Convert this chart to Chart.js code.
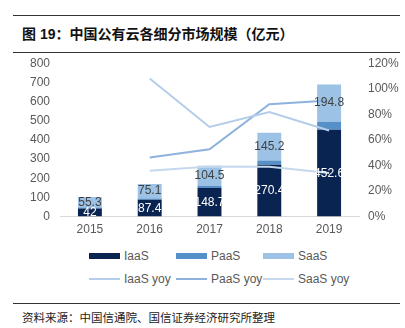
<!DOCTYPE html>
<html>
<head>
<meta charset="utf-8">
<script src="https://cdn.jsdelivr.net/npm/chart.js@4"></script>
<style>
  body { margin: 0; width: 405px; height: 328px; background: #fff; position: relative; overflow: hidden;
         font-family: "Liberation Sans", Arial, "Noto Sans CJK SC", sans-serif; }
  .rule { position: absolute; left: 13px; width: 387px; height: 0; border-top: 1px solid #333; }
  #title { position: absolute; left: 22px; top: 23px; font-size: 14px; font-weight: bold; color: #111;
           font-family: "Liberation Sans", Arial, "Noto Sans CJK SC", sans-serif; }
  #source { position: absolute; left: 22px; top: 309px; font-size: 11.5px; color: #222;
            font-family: "Noto Sans CJK SC", sans-serif; }
  #wrap { position: absolute; left: 0; top: 46px; width: 405px; height: 197px; }
  .legend { position: absolute; left: 0; width: 405px; font-size: 12px; color: #595959; }
  .item { position: absolute; top: 0; height: 14px; line-height: 14px; }
  .sw { position: absolute; left: 0; width: 31px; }
  .lbl { position: absolute; left: 35px; top: 0; white-space: nowrap; }
</style>
</head>
<body>
<div class="rule" style="top:15px"></div>
<div id="title">图 19：中国公有云各细分市场规模（亿元）</div>
<div class="rule" style="top:52px"></div>
<div id="wrap"><canvas id="chart"></canvas></div>
<div class="legend" id="legend1" style="top:249px"></div>
<div class="legend" id="legend2" style="top:272px"></div>
<div class="rule" style="top:303px"></div>
<div id="source">资料来源：中国信通院、国信证券经济研究所整理</div>
<script>
// 연도
var years = ['2015', '2016', '2017', '2018', '2019'];
// 市场规模 (亿元)
var iaas = [42, 87.4, 148.7, 270.4, 452.6];
var paas = [5.2, 7.6, 11.6, 21.8, 41.6];
var saas = [55.3, 75.1, 104.5, 145.2, 194.8];
// 同比增速 (%)
var iaasYoy = [null, 108.1, 70.1, 81.8, 67.4];
var paasYoy = [null, 46.2, 52.6, 87.9, 90.8];
var saasYoy = [null, 35.8, 39.1, 38.9, 34.2];

var colors = {
    iaas: '#0a2452',
    paas: '#5591c8',
    saas: '#9cc2e5',
    iaasYoy: '#b4cdea',
    paasYoy: '#8eb2de',
    saasYoy: '#c5d8ee'
};

// 막대 안에 값 표시
var barLabels = {
    id: 'barLabels',
    afterDatasetsDraw: function (chart) {
        var ctx = chart.ctx;
        ctx.save();
        ctx.font = '12px "Liberation Sans", Arial, sans-serif';
        ctx.textAlign = 'center';
        ctx.textBaseline = 'middle';
        [0, 2].forEach(function (di) {
            var meta = chart.getDatasetMeta(di);
            ctx.fillStyle = di === 0 ? '#ffffff' : '#404040';
            meta.data.forEach(function (bar, i) {
                var v = chart.data.datasets[di].data[i];
                ctx.fillText(String(v), bar.x, (bar.y + bar.base) / 2);
            });
        });
        ctx.restore();
    }
};

var lineDs = function (label, data, color) {
    return {
        type: 'line', label: label, data: data, yAxisID: 'y1',
        borderColor: color, backgroundColor: color, borderWidth: 2,
        pointRadius: 0, tension: 0, fill: false, order: 0
    };
};

var chart = new Chart(document.getElementById('chart'), {
    type: 'bar',
    data: {
        labels: years,
        datasets: [
            { label: 'IaaS', data: iaas, backgroundColor: colors.iaas, order: 1 },
            { label: 'PaaS', data: paas, backgroundColor: colors.paas, order: 1 },
            { label: 'SaaS', data: saas, backgroundColor: colors.saas, order: 1 },
            lineDs('IaaS yoy', iaasYoy, colors.iaasYoy),
            lineDs('PaaS yoy', paasYoy, colors.paasYoy),
            lineDs('SaaS yoy', saasYoy, colors.saasYoy)
        ]
    },
    options: {
        responsive: true,
        maintainAspectRatio: false,
        animation: false,
        barPercentage: 0.4,
        categoryPercentage: 1,
        layout: { padding: { top: 4, left: 0, right: 0, bottom: 0 } },
        plugins: { legend: { display: false }, tooltip: { enabled: false } },
        scales: {
            x: {
                stacked: true,
                grid: { display: false, drawTicks: false },
                border: { color: '#d9d9d9', width: 1 },
                ticks: { color: '#595959', font: { size: 12, family: '"Liberation Sans", Arial' }, padding: 6 }
            },
            y: {
                stacked: true, min: 0, max: 800,
                grid: { display: false, drawTicks: false },
                border: { display: false },
                ticks: { stepSize: 100, color: '#595959', font: { size: 12, family: '"Liberation Sans", Arial' }, padding: 10 },
                afterFit: function (s) { s.width = 60; }
            },
            y1: {
                position: 'right', min: 0, max: 120,
                grid: { display: false, drawTicks: false },
                border: { display: false },
                ticks: { stepSize: 20, color: '#595959', font: { size: 12, family: '"Liberation Sans", Arial' }, padding: 9,
                         callback: function (v) { return v + '%'; } },
                afterFit: function (s) { s.width = 46; }
            }
        }
    },
    plugins: [barLabels]
});

// 범례
function legendItem(parent, left, label, color, thick) {
    var it = document.createElement('div');
    it.className = 'item';
    it.style.left = left + 'px';
    var sw = document.createElement('div');
    sw.className = 'sw';
    sw.style.background = color;
    sw.style.height = thick + 'px';
    sw.style.top = (7 - thick / 2) + 'px';
    var tx = document.createElement('div');
    tx.className = 'lbl';
    tx.textContent = label;
    it.appendChild(sw);
    it.appendChild(tx);
    document.getElementById(parent).appendChild(it);
}
legendItem('legend1', 89, 'IaaS', colors.iaas, 6);
legendItem('legend1', 176, 'PaaS', colors.paas, 6);
legendItem('legend1', 263, 'SaaS', colors.saas, 6);
legendItem('legend2', 89, 'IaaS yoy', colors.iaasYoy, 2);
legendItem('legend2', 176, 'PaaS yoy', colors.paasYoy, 2);
legendItem('legend2', 263, 'SaaS yoy', colors.saasYoy, 2);
</script>
</body>
</html>
